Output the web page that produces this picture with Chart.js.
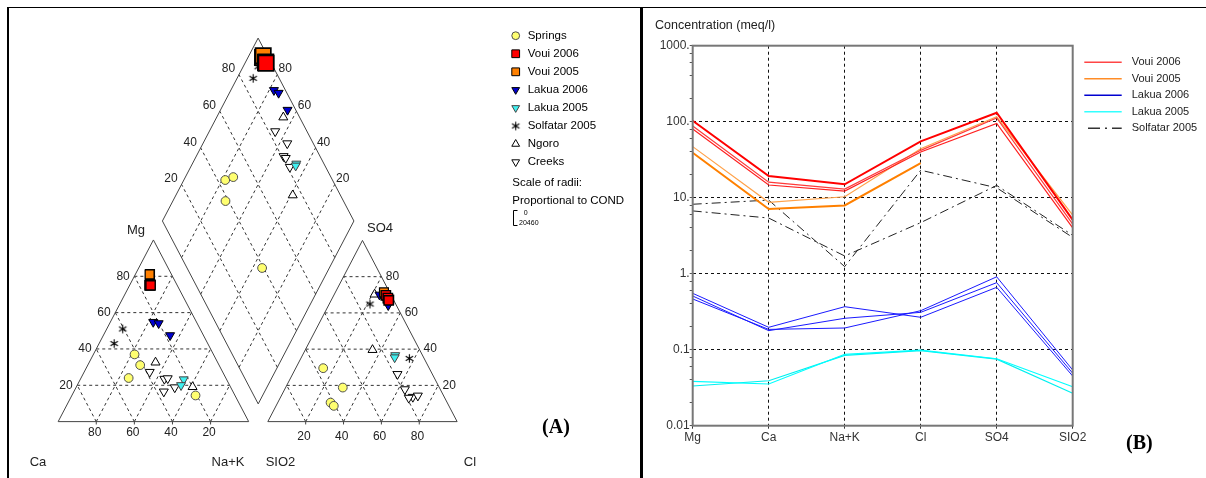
<!DOCTYPE html>
<html>
<head>
<meta charset="utf-8">
<script src="https://cdn.jsdelivr.net/npm/chart.js@4.4.1/dist/chart.umd.min.js"></script>
<style>
  html, body { margin: 0; padding: 0; background: #fff; }
  body { width: 1206px; height: 478px; position: relative; overflow: hidden; }
  canvas { position: absolute; top: 0; }
  #piper { left: 0; }
  #schoeller { left: 643px; }
  .rule { position: absolute; background: #000; }
</style>
</head>
<body>
<canvas id="piper" width="640" height="478"></canvas>
<canvas id="schoeller" width="563" height="478"></canvas>
<div class="rule" style="left:7px; top:7px; width:1199px; height:1px"></div>
<div class="rule" style="left:7px; top:7px; width:2px; height:471px"></div>
<div class="rule" style="left:640px; top:7px; width:3px; height:471px"></div>
<script>
Chart.defaults.font.family = '"Liberation Sans", Arial, sans-serif';
Chart.defaults.color = '#222';

// ---- (A) Piper data: cations [Ca, Mg, Na+K] %, anions [SiO2, SO4, Cl] %
const groups = ['Springs', 'Voui 2006', 'Voui 2005', 'Lakua 2006', 'Lakua 2005', 'Solfatar 2005', 'Ngoro', 'Creeks'];
const pipTicks = [20, 40, 60, 80];

const springsCat = [[41.4, 37.0, 21.6], [41.4, 31.1, 27.5], [51.0, 24.0, 25.0], [20.7, 14.4, 64.9]];
const springsAn = [[56.0, 29.5, 14.5], [61.6, 10.5, 27.9], [51.0, 18.8, 30.2], [60.8, 8.7, 30.5]];
const voui06Cat = [[14.0, 75.5, 10.5], [14.5, 75.0, 10.5], [14.0, 75.0, 11.0]];
const voui06An = [[2.8, 69.7, 27.5], [2.5, 68.2, 29.3], [2.7, 66.9, 30.4]];
const voui05Cat = [[11.2, 81.2, 7.6], [11.5, 81.0, 7.5]];
const voui05An = [[3.0, 71.3, 25.7], [2.2, 67.4, 30.4]];
const lakua06Cat = [[22.7, 54.8, 22.5], [20.2, 54.1, 25.7], [17.5, 47.5, 35.0]];
const lakua06An = [[6.0, 70.0, 24.0], [4.3, 64.2, 31.5], [4.3, 68.3, 27.4]];
const lakua05Cat = [[22.5, 23.2, 54.3], [25.5, 20.0, 54.5]];
const lakua05An = [[14.4, 36.6, 49.0], [15.3, 35.4, 49.3]];
const solfCat = [[40.6, 51.0, 8.4], [49.1, 43.0, 7.9]];
const solfAn = [[13.6, 64.9, 21.5], [7.8, 34.9, 57.3]];
const ngoroCat = [[32.6, 32.6, 34.8], [19.9, 19.1, 61.0]];
const ngoroAn = [[8.5, 70.2, 21.3], [24.9, 39.6, 35.5]];
const creeksCat = [[38.3, 27.3, 34.4], [32.5, 23.5, 44.0], [30.6, 23.8, 45.6], [36.3, 16.5, 47.2], [29.4, 18.8, 51.8]];
const creeksAn = [[16.6, 13.6, 69.8], [13.6, 14.3, 72.1], [19.0, 13.1, 67.9], [18.4, 26.2, 55.4], [18.7, 17.8, 63.5]];

// ---- (B) Schoeller data, one row per sample, meq/l
const ions = ['Mg', 'Ca', 'Na+K', 'Cl', 'SO4', 'SIO2'];
const yTickValues = [0.01, 0.1, 1, 10, 100, 1000];
const yTickLabels = ['0.01', '0.1', '1.', '10.', '100.', '1000.'];
const voui2006 = [[103, 19.3, 15.0, 55, 131, 5.1], [88, 16.0, 13.0, 42, 112, 4.5], [80, 14.7, 12.2, 40, 95, 4.0]];
const voui2005 = [[47, 8.7, 10.3, 44, 116, 5.9], [39, 7.1, 7.9, 28.4, null, null]];
const lakua2006 = [[0.552, 0.197, 0.368, 0.267, 0.662, 0.045], [0.509, 0.178, 0.259, 0.31, 0.762, 0.049], [0.465, 0.185, 0.193, 0.326, 0.91, 0.054]];
const lakua2005 = [[0.0384, 0.0354, 0.087, 0.099, 0.076, 0.0326], [0.0333, 0.039, 0.084, 0.097, 0.075, 0.0267]];
const solfatar2005 = [[8.2, 9.3, 1.24, 23, 13.5, 3.0], [6.7, 5.4, 1.71, 4.7, 14.5, 3.2]];

// geometry of the Piper plot (canvas units)
const G = {
  cat: { x0: 47.5, w: 198.3, y0: 431.7, h: 191.7 },
  an: { x0: 265.7, w: 197, y0: 431.7, h: 191.2 },
  dia: { bx: 255.7, by: 413, lx: 156, ly: 220, rx: 355.3, ry: 220 }
};
function catXY(c) {
  const mg = c[1] / 100, na = c[2] / 100;
  return { x: G.cat.x0 + (na + mg / 2) * G.cat.w, y: G.cat.y0 - mg * G.cat.h };
}
function anXY(a) {
  const so4 = a[1] / 100, cl = a[2] / 100;
  return { x: G.an.x0 + (cl + so4 / 2) * G.an.w, y: G.an.y0 - so4 * G.an.h };
}
function diaXY(na, sio2) {
  const d = G.dia, p = 1 - na / 100, q = 1 - sio2 / 100;
  return { x: d.bx + p * (d.lx - d.bx) + q * (d.rx - d.bx), y: d.by + p * (d.ly - d.by) + q * (d.ry - d.by) };
}

// six-ray asterisk used for Solfatar
function makeAsterisk(r) {
  const c = document.createElement('canvas');
  c.width = c.height = Math.ceil(2 * r + 2);
  const g = c.getContext('2d');
  g.strokeStyle = '#000';
  g.lineWidth = 1.1;
  g.beginPath();
  [90, 30, 150].forEach(a => {
    const t = a * Math.PI / 180, dx = Math.cos(t) * r, dy = Math.sin(t) * r;
    g.moveTo(c.width / 2 - dx, c.height / 2 - dy);
    g.lineTo(c.width / 2 + dx, c.height / 2 + dy);
  });
  g.stroke();
  return c;
}
const asterisk = makeAsterisk(4.3);

const pipStyles = [
  { pointStyle: 'circle', rotation: 0, radius: 4.4, legendRadius: 3.9, bg: '#ffff70', border: '#505050' },
  { pointStyle: 'rect', rotation: 0, radius: 6.6, legendRadius: 5.5, diaRadius: 10.8, bw: 1.4, bg: '#ff0000', border: '#000' },
  { pointStyle: 'rect', rotation: 0, radius: 6.3, legendRadius: 5.5, diaRadius: 10.8, bw: 1.2, bg: '#ff8000', border: '#000' },
  { pointStyle: 'triangle', rotation: 180, radius: 5.2, legendRadius: 4.5, bg: '#0000d0', border: '#000' },
  { pointStyle: 'triangle', rotation: 180, radius: 5.2, legendRadius: 4.5, bg: '#40f0f0', border: '#444' },
  { pointStyle: asterisk, rotation: 0, radius: 4.5, legendRadius: 4.5, bg: '#000', border: '#000' },
  { pointStyle: 'triangle', rotation: 0, radius: 5.2, legendRadius: 4.5, bg: '#fff', border: '#000' },
  { pointStyle: 'triangle', rotation: 180, radius: 5.2, legendRadius: 4.5, bg: '#fff', border: '#000' }
];
const pipData = [
  [springsCat, springsAn], [voui06Cat, voui06An], [voui05Cat, voui05An], [lakua06Cat, lakua06An],
  [lakua05Cat, lakua05An], [solfCat, solfAn], [ngoroCat, ngoroAn], [creeksCat, creeksAn]
];

function piperDataset(name, cat, an, st) {
  const n = cat.length;
  const pts = cat.map(catXY).concat(an.map(anXY)).concat(cat.map((c, i) => diaXY(c[2], an[i][0])));
  return {
    label: name,
    data: pts,
    showLine: false,
    pointStyle: st.pointStyle,
    pointRotation: st.rotation,
    pointRadius: pts.map((p, i) => i >= 2 * n ? (st.diaRadius || st.radius) : st.radius),
    pointBorderWidth: pts.map((p, i) => i >= 2 * n && st.diaRadius ? 1.7 : (st.bw || 1)),
    pointBackgroundColor: st.bg,
    pointBorderColor: st.border
  };
}

const FONT = '"Liberation Sans", Arial, sans-serif';

const piperDecor = {
  id: 'piperDecor',
  beforeDatasetsDraw(chart) {
    const ctx = chart.ctx, sx = chart.scales.x, sy = chart.scales.y;
    const px = p => [sx.getPixelForValue(p.x), sy.getPixelForValue(p.y)];
    const seg = (a, b) => { const A = px(a), B = px(b); ctx.moveTo(A[0], A[1]); ctx.lineTo(B[0], B[1]); };
    const poly = pts => {
      pts.forEach((p, i) => { const q = px(p); if (i) ctx.lineTo(q[0], q[1]); else ctx.moveTo(q[0], q[1]); });
      ctx.closePath();
    };
    ctx.save();
    // dashed grid
    ctx.lineWidth = 1;
    ctx.strokeStyle = '#333';
    ctx.setLineDash([3, 3]);
    ctx.beginPath();
    pipTicks.forEach(k => {
      const r = 100 - k;
      seg(catXY([r, k, 0]), catXY([0, k, r]));
      seg(catXY([r, 0, k]), catXY([0, r, k]));
      seg(catXY([k, 0, r]), catXY([k, r, 0]));
      seg(anXY([r, k, 0]), anXY([0, k, r]));
      seg(anXY([r, 0, k]), anXY([0, r, k]));
      seg(anXY([k, 0, r]), anXY([k, r, 0]));
      seg(diaXY(r, 100), diaXY(r, 0));
      seg(diaXY(100, r), diaXY(0, r));
    });
    ctx.stroke();
    // outlines
    ctx.setLineDash([]);
    ctx.strokeStyle = '#444';
    ctx.beginPath();
    poly([catXY([100, 0, 0]), catXY([0, 0, 100]), catXY([0, 100, 0])]);
    poly([anXY([100, 0, 0]), anXY([0, 0, 100]), anXY([0, 100, 0])]);
    poly([diaXY(100, 100), diaXY(0, 100), diaXY(0, 0), diaXY(100, 0)]);
    pipTicks.forEach(k => {
      const a = catXY([k, 0, 100 - k]); seg(a, { x: a.x, y: a.y + 3 });
      const b = anXY([100 - k, 0, k]); seg(b, { x: b.x, y: b.y + 3 });
    });
    ctx.stroke();
    // tick labels
    ctx.fillStyle = '#222';
    ctx.font = '12px ' + FONT;
    ctx.textAlign = 'center';
    ctx.textBaseline = 'middle';
    pipTicks.forEach(k => {
      let p = px(catXY([k, 0, 100 - k])); ctx.fillText(k, p[0] - 1.5, p[1] + 10.6);
      p = px(anXY([100 - k, 0, k])); ctx.fillText(k, p[0] - 1.8, p[1] + 15);
      p = px(catXY([100 - k, k, 0])); ctx.fillText(k, p[0] - 11.3, p[1]);
      p = px(anXY([0, k, 100 - k])); ctx.fillText(k, p[0] + 11, p[1]);
      p = px(diaXY(0, 100 - k)); ctx.fillText(k, p[0] - 10.5, p[1] - 5.6);
      p = px(diaXY(100 - k, 0)); ctx.fillText(k, p[0] + 8, p[1] - 5.5);
    });
    // axis names
    ctx.font = '13px ' + FONT;
    [['Mg', 136, 230], ['SO4', 380, 228], ['Ca', 38, 462], ['Na+K', 228, 462], ['SIO2', 280.5, 462], ['Cl', 470, 462]]
      .forEach(t => ctx.fillText(t[0], t[1], t[2]));
    ctx.restore();
  },
  afterDraw(chart) {
    const ctx = chart.ctx;
    ctx.save();
    ctx.textBaseline = 'middle';
    ctx.textAlign = 'left';
    ctx.font = '11.5px ' + FONT;
    groups.forEach((g, i) => {
      const st = pipStyles[i], y = 35.7 + i * 18.05;
      ctx.fillStyle = st.bg;
      ctx.strokeStyle = st.border;
      ctx.lineWidth = 1;
      Chart.helpers.drawPoint(ctx, { pointStyle: st.pointStyle, rotation: st.rotation, radius: st.legendRadius, borderWidth: 1 }, 515.7, y);
      ctx.fillStyle = '#000';
      ctx.fillText(g, 527.7, y);
    });
    ctx.fillText('Scale of radii:', 512.3, 183.3);
    ctx.fillText('Proportional to COND', 512.3, 200.7);
    ctx.strokeStyle = '#000';
    ctx.beginPath();
    ctx.moveTo(517.5, 210.5); ctx.lineTo(513.5, 210.5); ctx.lineTo(513.5, 225.5); ctx.lineTo(517.5, 225.5);
    ctx.stroke();
    ctx.font = '7px ' + FONT;
    ctx.textAlign = 'center';
    ctx.fillText('0', 525.7, 212.7);
    ctx.fillText('20460', 528.8, 223);
    ctx.font = 'bold 20px "Liberation Serif", "Times New Roman", serif';
    ctx.fillText('(A)', 556, 428);
    ctx.restore();
  }
};

new Chart(document.getElementById('piper'), {
  type: 'scatter',
  data: { datasets: groups.map((g, i) => piperDataset(g, pipData[i][0], pipData[i][1], pipStyles[i])) },
  options: {
    responsive: false,
    animation: false,
    events: [],
    layout: { padding: 0 },
    plugins: { legend: { display: false }, tooltip: { enabled: false } },
    scales: {
      x: { type: 'linear', min: 0, max: 640, display: false },
      y: { type: 'linear', min: 0, max: 478, reverse: true, display: false }
    }
  },
  plugins: [piperDecor]
});

// ---- (B) Schoeller
const schGroups = [
  { name: 'Voui 2006', rows: voui2006, colors: ['#ff0000', '#ff3a3a', '#ff2020'], widths: [2, 1.2, 1.2], legend: '#ff4545' },
  { name: 'Voui 2005', rows: voui2005, colors: ['#ffa24a', '#ff8000'], widths: [1.2, 2], legend: '#ff8c26' },
  { name: 'Lakua 2006', rows: lakua2006, colors: ['#1a1aff', '#1a1aff', '#1a1aff'], widths: [1, 1, 1], legend: '#0000d0' },
  { name: 'Lakua 2005', rows: lakua2005, colors: ['#00ffff', '#00f0f0'], widths: [1.2, 1.2], legend: '#33ffff' },
  { name: 'Solfatar 2005', rows: solfatar2005, colors: ['#222', '#222'], widths: [1, 1], legend: '#333', dash: [9, 4, 2, 4] }
];
const schDatasets = [];
schGroups.forEach(g => g.rows.forEach((row, i) => schDatasets.push({
  label: g.name,
  data: row,
  borderColor: g.colors[i],
  borderWidth: g.widths[i],
  borderDash: g.dash || [],
  pointRadius: 0,
  fill: false,
  tension: 0,
  spanGaps: false
})));

const isDecade = v => Math.abs(Math.log10(v) - Math.round(Math.log10(v))) < 1e-6;
const yTicksAll = [];
yTickValues.forEach((d, i) => {
  yTicksAll.push(d);
  if (i < yTickValues.length - 1) [2, 4, 6, 8].forEach(m => yTicksAll.push(d * m));
});

const schDecor = {
  id: 'schDecor',
  afterDatasetsDraw(chart) {
    const { ctx, chartArea: a } = chart;
    ctx.save();
    ctx.strokeStyle = '#777';
    ctx.lineWidth = 2;
    ctx.strokeRect(a.left, a.top, a.right - a.left, a.bottom - a.top);
    ctx.restore();
  },
  afterDraw(chart) {
    const ctx = chart.ctx;
    ctx.save();
    ctx.fillStyle = '#222';
    ctx.textBaseline = 'middle';
    ctx.textAlign = 'left';
    ctx.font = '12.5px ' + FONT;
    ctx.fillText('Concentration (meq/l)', 12, 25.7);
    ctx.font = '11px ' + FONT;
    schGroups.forEach((g, i) => {
      const y = 62.3 + i * 16.5;
      ctx.strokeStyle = g.legend;
      ctx.lineWidth = 1.5;
      ctx.setLineDash(g.dash ? [12, 5, 2, 5] : []);
      ctx.beginPath();
      ctx.moveTo(g.dash ? 445 : 441.3, y);
      ctx.lineTo(478.7, y);
      ctx.stroke();
      ctx.fillText(g.name, 488.7, y);
    });
    ctx.setLineDash([]);
    ctx.fillStyle = '#000';
    ctx.textAlign = 'center';
    ctx.font = 'bold 20px "Liberation Serif", "Times New Roman", serif';
    ctx.fillText('(B)', 496.3, 443.5);
    ctx.restore();
  }
};

new Chart(document.getElementById('schoeller'), {
  type: 'line',
  data: { labels: ions, datasets: schDatasets },
  options: {
    responsive: false,
    animation: false,
    events: [],
    layout: { padding: { left: 0, top: 45.7, right: 133.3, bottom: 0 } },
    plugins: { legend: { display: false }, tooltip: { enabled: false } },
    scales: {
      x: {
        type: 'category',
        offset: false,
        grid: {
          color: c => (c.index > 0 && c.index < ions.length - 1) ? '#111' : 'rgba(0,0,0,0)',
          tickColor: '#333',
          tickLength: 3,
          lineWidth: 1
        },
        border: { display: false, dash: [3, 3] },
        ticks: { color: '#333', font: { size: 12 }, padding: 2, maxRotation: 0, autoSkip: false },
        afterFit: s => { s.height = 52.3; }
      },
      y: {
        type: 'logarithmic',
        min: 0.01,
        max: 1000,
        afterBuildTicks: s => { s.ticks = yTicksAll.map(v => ({ value: v })); },
        grid: {
          color: c => (c.tick && isDecade(c.tick.value) && c.tick.value > 0.01 && c.tick.value < 1000) ? '#111' : 'rgba(0,0,0,0)',
          tickColor: '#555',
          tickLength: 3,
          lineWidth: 1
        },
        border: { display: false, dash: [3, 3] },
        ticks: {
          autoSkip: false,
          color: '#333',
          font: { size: 12 },
          padding: 0,
          callback: v => {
            const i = yTickValues.findIndex(d => Math.abs(d - v) < d * 1e-6);
            return i >= 0 ? yTickLabels[i] : '';
          }
        },
        afterFit: s => { s.width = 49.7; }
      }
    }
  },
  plugins: [schDecor]
});
</script>
</body>
</html>
